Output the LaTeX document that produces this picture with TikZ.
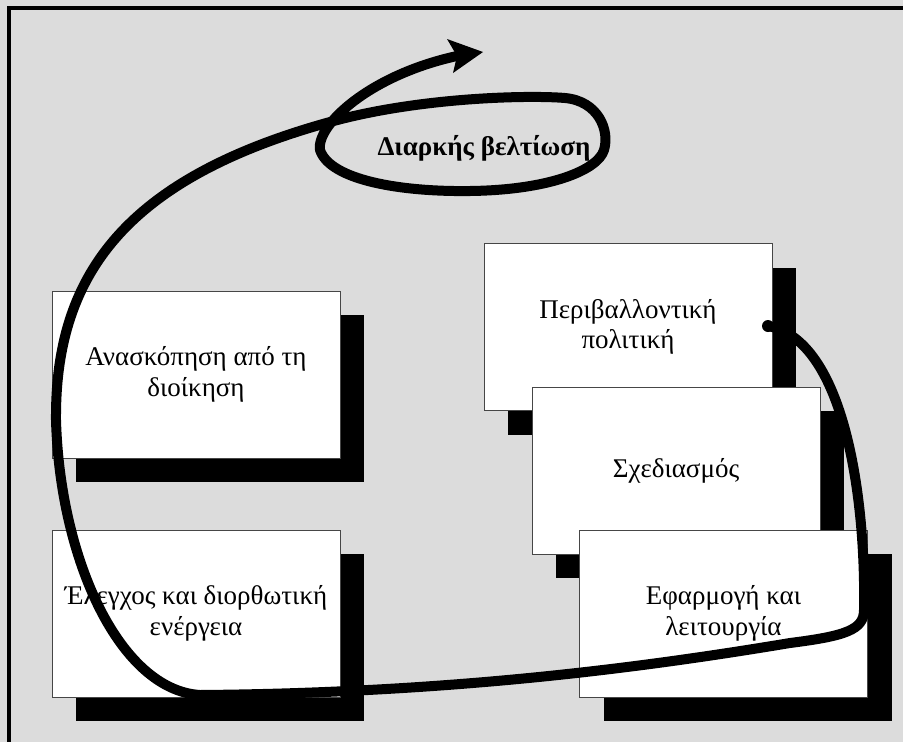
\documentclass[tikz,border=0pt]{standalone}
\usepackage{fontspec}
\setmainfont{Liberation Serif}
\usetikzlibrary{shadows}
\definecolor{bg}{RGB}{220,220,220}
\definecolor{boxline}{RGB}{70,70,70}
\tikzset{
  stagebox/.style={draw=boxline, fill=white, line width=1pt,
    minimum width=288pt, minimum height=167pt, inner sep=0pt, align=center,
    font=\fontsize{27}{30.5}\selectfont,
    general shadow={fill=black, shadow xshift=24pt, shadow yshift=-24pt}},
  loopline/.style={line width=10pt, line cap=round, line join=round},
  titletext/.style={font=\fontsize{27}{30}\selectfont\bfseries, inner sep=0pt, anchor=base}
}
\begin{document}
\begin{tikzpicture}[x=1pt, y=-1pt]
\useasboundingbox (0,0) rectangle (903,742);
\fill[bg] (0,0) rectangle (903,742);
\fill[black] (7,6) rectangle (903,10);
\fill[black] (7,6) rectangle (11,742);

\node[stagebox] (review) at (196,374.5) {Ανασκόπηση από τη\\διοίκηση};
\node[stagebox] (check) at (196,613.5) {Έλεγχος και διορθωτική\\ενέργεια};
\node[stagebox] (policy) at (628,327) {Περιβαλλοντική\\πολιτική};
\node[stagebox] (plan) at (676,470.5) {Σχεδιασμός};
\node[stagebox] (impl) at (723.5,613.5) {Εφαρμογή και\\λειτουργία};

\node[titletext] (title) at (484,155) {Διαρκής βελτίωση};

\coordinate (start) at (768,326);
\coordinate (tip) at (483,52);
\coordinate (barbup) at (447,39);
\coordinate (notch) at (457,56);
\coordinate (barbdown) at (453,73);

\draw[loopline] (start)
  .. controls (845,340) and (866,500) .. (864,610)
  .. controls (864,630) and (845,636) .. (790,643)
  .. controls (640,668) and (450,693) .. (200,695)
  .. controls (120,690) and (60,560) .. (56,420)
  .. controls (55,280) and (120,180) .. (330,122)
  .. controls (420,97) and (530,95) .. (565,98)
  .. controls (598,101) and (610,130) .. (604,150)
  .. controls (598,170) and (550,190) .. (470,191)
  .. controls (400,192) and (330,180) .. (320,150)
  .. controls (316,125) and (370,75) .. (457,56);
\fill[black] (start) circle (6pt);
\fill[black] (tip) -- (barbup) -- (notch) -- (barbdown) -- cycle;
\end{tikzpicture}
\end{document}
